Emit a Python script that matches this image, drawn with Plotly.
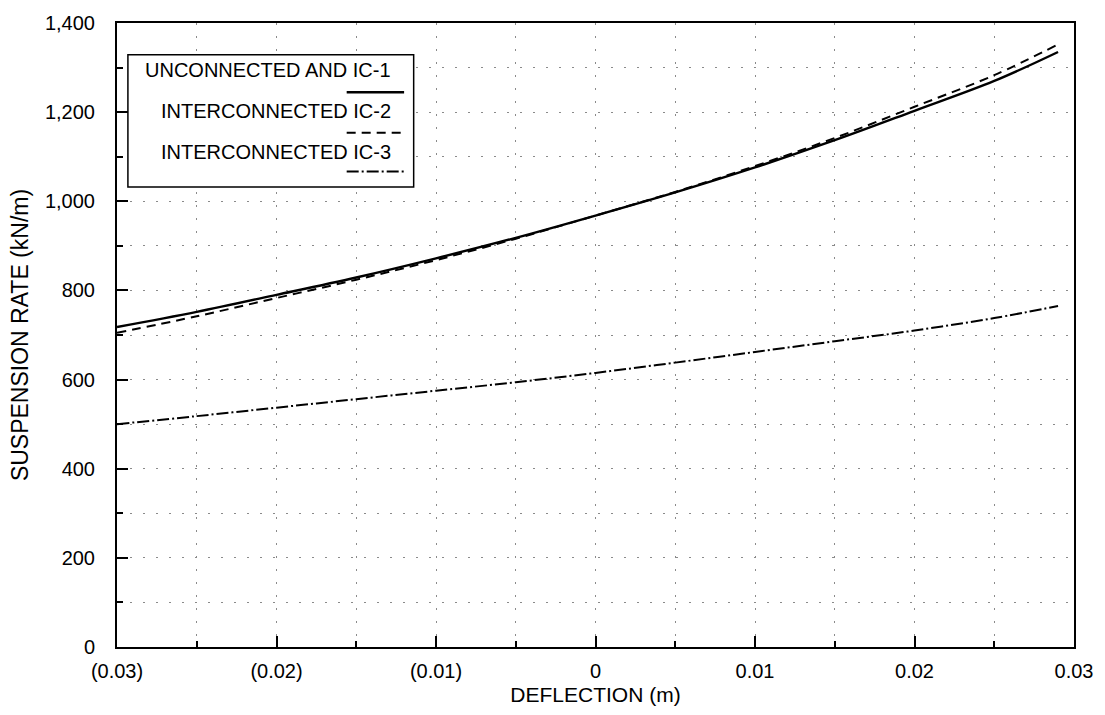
import plotly.graph_objects as go

# Deflection (m) and suspension rate (kN/m) for three configurations
deflection = [-0.03, -0.025, -0.02, -0.015, -0.01, -0.005, 0.0,
              0.005, 0.01, 0.015, 0.02, 0.025, 0.029]
rate_ic1 = [718, 752, 790, 829, 872, 918, 968, 1020, 1076, 1137, 1203, 1270, 1335]
rate_ic2 = [705, 742, 783, 824, 868, 916, 968, 1021, 1079, 1142, 1212, 1283, 1352]
rate_ic3 = [500, 518, 537, 556, 575, 594, 615, 638, 662, 686, 710, 738, 765]

x_tickvals = [-0.03, -0.02, -0.01, 0.0, 0.01, 0.02, 0.03]
x_ticktext = ["(0.03)", "(0.02)", "(0.01)", "0", "0.01", "0.02", "0.03"]
y_tickvals = [0, 200, 400, 600, 800, 1000, 1200, 1400]

legend_names = ["UNCONNECTED AND IC-1", "INTERCONNECTED IC-2", "INTERCONNECTED IC-3"]

FONT = "Liberation Sans, Arial, Helvetica, sans-serif"
DASH_IC2 = "9px,6px"
DASH_IC3 = "12px,3px,2px,3px"
GRID = dict(showgrid=True, gridcolor="#8a8a8a", gridwidth=1, griddash="2px,11px")

fig = go.Figure()
fig.add_trace(go.Scatter(x=deflection, y=rate_ic1, mode="lines", line_shape="spline",
                         line=dict(color="black", width=2.4), name=legend_names[0]))
fig.add_trace(go.Scatter(x=deflection, y=rate_ic2, mode="lines", line_shape="spline",
                         line=dict(color="black", width=2, dash=DASH_IC2), name=legend_names[1]))
fig.add_trace(go.Scatter(x=deflection, y=rate_ic3, mode="lines", line_shape="spline",
                         line=dict(color="black", width=2, dash=DASH_IC3), name=legend_names[2]))

# Boxed legend in paper coordinates: label text with its line sample beneath
fig.add_shape(type="rect", xref="paper", yref="paper",
              x0=0.0114, x1=0.310, y0=0.737, y1=0.949,
              line=dict(color="black", width=1.5), fillcolor="white", layer="above")
sample_dashes = ["solid", DASH_IC2, DASH_IC3]
sample_widths = [2.4, 2, 2]
text_y = [0.924, 0.859, 0.794]
line_y = [0.889, 0.824, 0.762]
for name, ty, ly, dsh, w in zip(legend_names, text_y, line_y, sample_dashes, sample_widths):
    fig.add_annotation(x=0.288, y=ty, xref="paper", yref="paper", text=name,
                       showarrow=False, xanchor="right", yanchor="middle",
                       font=dict(family=FONT, size=20, color="black"))
    fig.add_shape(type="line", xref="paper", yref="paper", x0=0.240, x1=0.300, y0=ly, y1=ly,
                  line=dict(color="black", width=w, dash=dsh), layer="above")

axis_common = dict(
    showline=True, linecolor="black", linewidth=2, mirror=True,
    ticks="inside", tickcolor="black", tickwidth=1.5, ticklen=11,
    zeroline=False,
    tickfont=dict(family=FONT, size=20, color="black"),
    **GRID,
)

fig.update_xaxes(
    range=[-0.03, 0.03], tickvals=x_tickvals, ticktext=x_ticktext,
    ticklabelstandoff=5,
    minor=dict(dtick=0.005, tick0=0, ticks="inside", ticklen=6, tickcolor="black", **GRID),
    title=dict(text="DEFLECTION (m)", font=dict(family=FONT, size=21, color="black"),
               standoff=6),
    **axis_common,
)
fig.update_yaxes(
    range=[0, 1400], tickvals=y_tickvals, tickformat=",d",
    ticklabelstandoff=16,
    minor=dict(dtick=100, tick0=0, ticks="inside", ticklen=6, tickcolor="black", **GRID),
    title=dict(text="SUSPENSION RATE (kN/m)", font=dict(family=FONT, size=23, color="black"),
               standoff=10),
    **axis_common,
)

fig.update_layout(
    width=1105, height=715,
    margin=dict(l=117, r=27, t=16, b=68),
    paper_bgcolor="white", plot_bgcolor="white",
    showlegend=False,
    font=dict(family=FONT, color="black"),
)

fig.write_html("out.html")
